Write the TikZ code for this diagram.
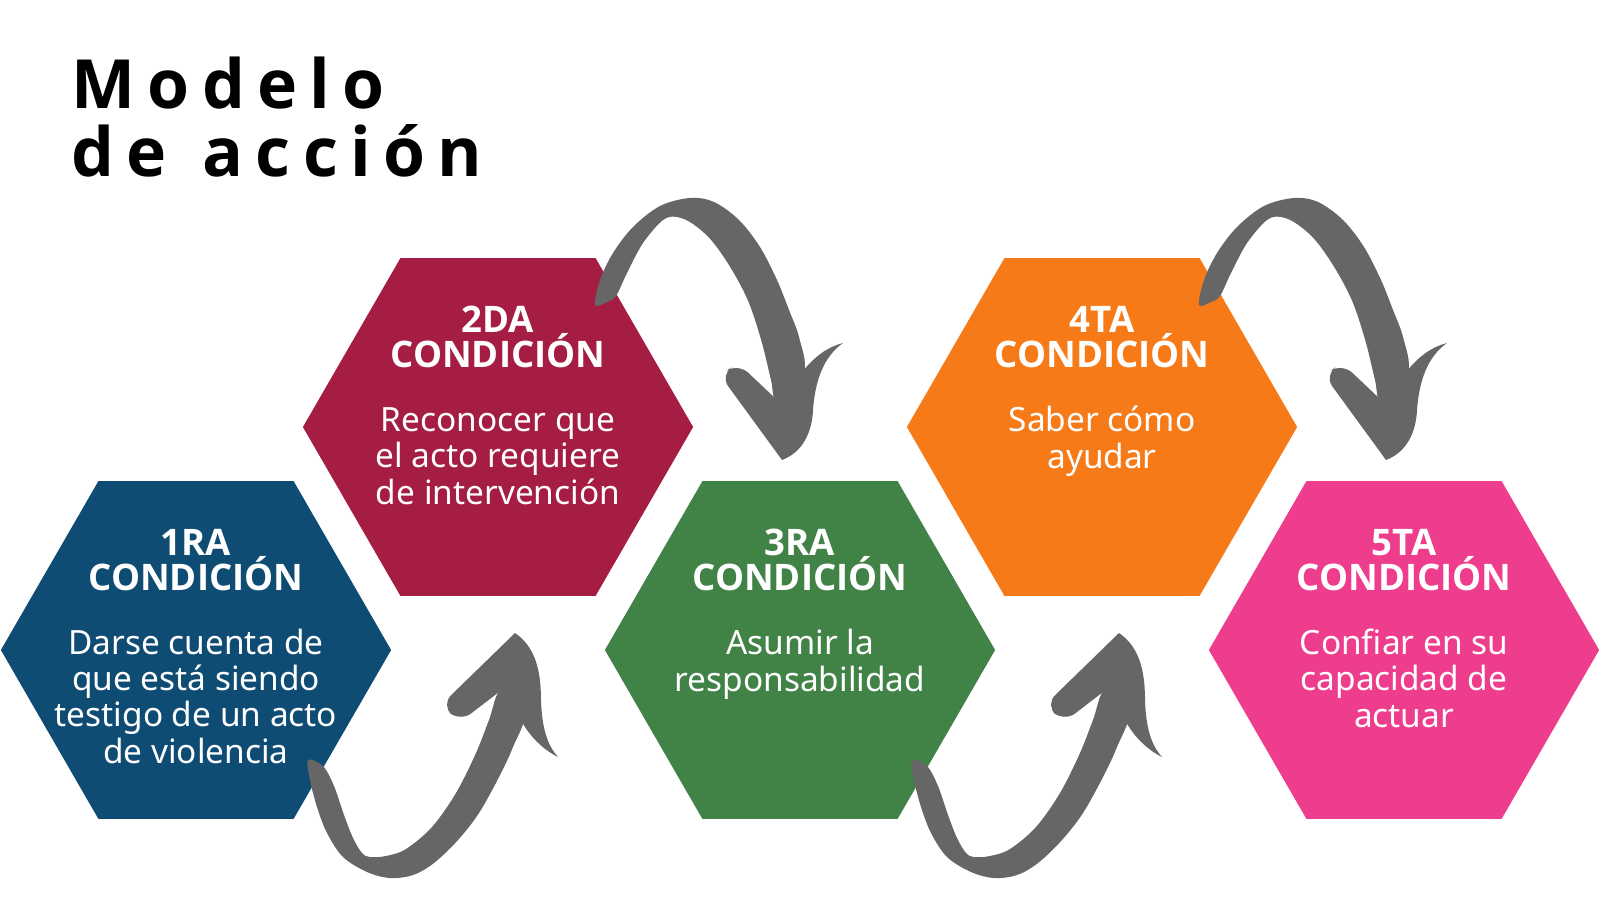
\documentclass[tikz,border=0pt]{standalone}
\usepackage{fontspec}
\setmainfont{Noto Sans}
\newfontfamily\titlefont[LetterSpace=18,WordSpace=1.2]{Open Sans}
\newfontfamily\headfont{Open Sans}
\usetikzlibrary{shapes.geometric}
\definecolor{condA}{HTML}{0E4C74}
\definecolor{condB}{HTML}{A51D42}
\definecolor{condC}{HTML}{418347}
\definecolor{condD}{HTML}{F77A18}
\definecolor{condE}{HTML}{EF3D8D}
\definecolor{brushgray}{HTML}{666666}
\begin{document}
\begin{tikzpicture}[x=0.01cm,y=-0.01cm,
  hexa/.style={regular polygon,regular polygon sides=6,minimum size=3.9cm,inner sep=0pt},
  headtxt/.style={text=white,font={\headfont\bfseries\fontsize{10.4}{9.9}\selectfont},align=center,anchor=base,inner sep=0pt},
  bodytxt/.style={text=white,font={\fontsize{9.5}{10.24}\selectfont},align=center,anchor=base,inner sep=0pt}]
\useasboundingbox (0,0) rectangle (1600,900);
% base anchor = last line
\node[anchor=base west,align=left,inner sep=0pt,font={\titlefont\bfseries\fontsize{19.3}{19.06}\selectfont}] (title) at (71,176) {Modelo\\de acción};
% hexagons
\node[hexa,fill=condA] (h1) at (196,650) {};
\node[hexa,fill=condB] (h2) at (498,427) {};
\node[hexa,fill=condC] (h3) at (800,650) {};
\node[hexa,fill=condD] (h4) at (1102,427) {};
\node[hexa,fill=condE] (h5) at (1404,650) {};
% texts
\node[headtxt] (k1) at ([shift={(0,-60)}]h1.center) {1RA\\CONDICIÓN};
\node[bodytxt] (b1) at ([shift={(0,113)}]h1.center) {Darse cuenta de\\que está siendo\\testigo de un acto\\de violencia};
\node[headtxt] (k2) at ([shift={(0,-60)}]h2.center) {2DA\\CONDICIÓN};
\node[bodytxt] (b2) at ([shift={(0,77)}]h2.center) {Reconocer que\\el acto requiere\\de intervención};
\node[headtxt] (k3) at ([shift={(0,-60)}]h3.center) {3RA\\CONDICIÓN};
\node[bodytxt] (b3) at ([shift={(0,41)}]h3.center) {Asumir la\\responsabilidad};
\node[headtxt] (k4) at ([shift={(0,-60)}]h4.center) {4TA\\CONDICIÓN};
\node[bodytxt] (b4) at ([shift={(0,41)}]h4.center) {Saber cómo\\ayudar};
\node[headtxt] (k5) at ([shift={(0,-60)}]h5.center) {5TA\\CONDICIÓN};
\node[bodytxt] (b5) at ([shift={(0,77)}]h5.center) {Confiar en su\\capacidad de\\actuar};
% lower arrows
\foreach \h in {h1,h3}{
\begin{scope}[shift={(\h.center)}]
\fill[brushgray] plot[smooth cycle,tension=0.55] coordinates {(112,110) (114,130) (121,157) (131,183) (147,207) (171,222) (194,228) (217,225) (238,213) (262,190) (283,163) (303,127) (317,97) (329,62) (305,40) (293,70) (280,103) (260,143) (236,177) (210,199) (190,206) (174,207) (166,203) (157,188) (148,165) (138,136) (127,116)};
\fill[brushgray] (319,-17) .. controls (338,-4) and (345,18) .. (345,50) .. controls (346,80) and (352,96) .. (362,107) .. controls (348,100) and (335,88) .. (326,72) -- (303,42) [rounded corners=4] -- (264,72) -- (245,55) [sharp corners] -- cycle;
\end{scope}}
% upper arrows
\foreach \h in {h2,h4}{
\begin{scope}[shift={(\h.center)}]
\fill[brushgray] plot[smooth cycle,tension=0.55] coordinates {(97,-122) (102,-147) (115,-174) (135,-200) (162,-221) (192,-229) (216,-225) (241,-207) (262,-180) (279,-147) (291,-117) (301,-90) (306,-55) (279,-27) (273,-47) (264,-84) (251,-124) (234,-157) (214,-186) (195,-203) (179,-210) (165,-207) (145,-184) (129,-154) (118,-131) (109,-125)};
\fill[brushgray] (284,33) .. controls (305,25) and (314,5) .. (315,-17) .. controls (317,-45) and (325,-70) .. (345,-84) .. controls (330,-80) and (318,-72) .. (304,-55) -- (279,-27) [rounded corners=4] -- (240,-64) -- (222,-52) [sharp corners] -- cycle;
\end{scope}}
\end{tikzpicture}
\end{document}
